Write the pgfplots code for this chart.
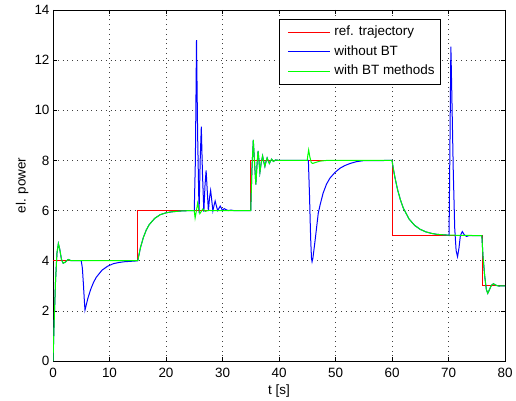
\documentclass[border=0pt]{standalone}
\usepackage{fontspec}
\setmainfont{Liberation Sans}
\usepackage{pgfplots}
\pgfplotsset{compat=1.18}
\newcommand{\fsz}{\fontsize{13.5}{16}\selectfont}
\definecolor{mred}{rgb}{1,0,0}
\definecolor{mblue}{rgb}{0,0,1}
\definecolor{mgreen}{rgb}{0,1,0}
\begin{document}
\begin{tikzpicture}
\begin{axis}[
    scale only axis,
    width=452bp, height=351bp,
    xmin=0, xmax=80, ymin=0, ymax=14,
    xtick={0,10,...,80}, ytick={0,2,...,14},
    enlargelimits=false,
    axis line style={line width=0.9bp, black},
    tick align=inside, major tick length=4bp,
    tick style={black, line width=0.5bp},
    xtick pos=both, ytick pos=both,
    grid=major,
    major grid style={black!75, line width=0.5bp, dash pattern=on 0.8bp off 4bp},
    /pgf/number format/assume math mode=true,
    tick label style={font=\fsz},
    xticklabel style={yshift=-3.5bp},
    label style={font=\fsz},
    xlabel={t [s]},
    ylabel={el. power},
    x label style={at={(axis description cs:0.5,-0.0954)}, anchor=base},
    y label style={at={(axis description cs:-0.0608,0.5)}, anchor=base},
    legend cell align=left,
    legend style={at={(rel axis cs:0.8584,0.9744)}, anchor=north east,
        font=\fsz, draw=black, line width=0.8bp, fill=white,
        inner xsep=4bp, inner ysep=6.2bp, row sep=6.7bp, column sep=2bp,
        nodes={inner xsep=2bp, inner ysep=0bp, text height=10bp, text depth=3bp}},
    legend image code/.code={\path (0bp,0bp); \draw[#1] (4bp,0bp) -- (46bp,0bp);},
    every axis plot/.append style={line width=1bp},
]
\addplot[mred] coordinates {(0,4)(15,4)(15,6)(35,6)(35,8)(60,8)(60,5)(76,5)(76,3)(80,3)};
\addplot[mblue] coordinates {
(0,0)(0.2,1.5)(0.45,3.2)(0.7,4.3)(0.95,4.68)(1.2,4.45)(1.5,4.05)(1.8,3.9)(2.2,3.95)(2.7,4.05)(3.2,4.0)
(5.0,4.0)(5.2,3.7)(5.4,3.0)(5.55,2.4)(5.66,2.03)(6.16,2.49)(6.66,2.85)(7.16,3.13)(7.66,3.34)(8.66,3.62)
(9.66,3.78)(10.66,3.88)(11.66,3.93)(12.66,3.96)(14.66,3.99)(15,4.0)
(15.5,4.54)(16,4.93)(16.5,5.22)(17,5.43)(18,5.69)(19,5.84)(20,5.91)(21,5.95)(23,5.99)(25.0,6.0)
(25.2,8.0)(25.4,12.8)(25.6,9.0)(25.85,5.9)(26.05,8.0)(26.25,9.35)(26.45,7.5)(26.7,5.95)(26.9,7.0)
(27.1,7.6)(27.3,6.8)(27.5,5.98)(27.7,6.5)(27.9,6.8)(28.1,6.4)(28.3,5.99)(28.5,6.2)(28.7,6.38)(28.9,6.2)
(29.15,6.0)(29.4,6.1)(29.6,6.18)(29.8,6.1)(30.0,6.0)(30.3,6.08)(30.6,6.04)(31,6.0)(31.5,6.02)(32,6.0)(35,6.0)
(35.2,7.6)(35.45,8.82)(35.7,7.8)(35.9,7.04)(36.1,7.8)(36.3,8.38)(36.45,8.0)(36.62,7.52)(36.85,7.9)
(37.1,8.18)(37.3,7.95)(37.5,7.76)(37.7,7.95)(37.9,8.1)(38.1,7.98)(38.3,7.88)(38.5,7.98)(38.7,8.05)
(39.0,7.96)(39.4,8.02)(40,8.0)(45.2,8.0)
(45.4,6.6)(45.6,4.9)(45.75,4.1)(45.85,3.96)(46.0,4.1)(46.4,4.83)(46.95,5.9)(47.3,6.25)(47.8,6.69)
(48.4,7.05)(49.0,7.29)(49.9,7.52)(50.8,7.69)(51.7,7.8)(52.6,7.88)(53.7,7.95)(54.9,7.99)(60,8.0)
(60.25,7.65)(60.5,7.34)(61,6.82)(61.5,6.42)(62,6.10)(63,5.67)(64,5.41)(65,5.25)(66,5.15)(67,5.09)
(68,5.05)(70,5.02)
(70.1,5.01)(70.25,8.5)(70.42,12.54)(70.6,10.5)(70.85,7.5)(71.1,5.3)(71.35,4.4)(71.6,4.16)(71.85,4.5)
(72.1,5.0)(72.45,5.16)(72.8,5.03)(73.2,4.97)(73.6,5.0)(75.9,5.0)
(76.1,4.2)(76.4,3.4)(76.7,2.85)(76.95,2.7)(77.25,2.85)(77.6,3.02)(77.95,3.08)(78.4,3.02)(78.9,2.99)(80,3.0)};
\addplot[mgreen] coordinates {
(0,0)(0.2,1.5)(0.45,3.2)(0.7,4.3)(0.95,4.68)(1.2,4.45)(1.5,4.05)(1.8,3.9)(2.2,3.95)(2.7,4.05)(3.2,4.0)(15,4.0)
(15.5,4.54)(16,4.93)(16.5,5.22)(17,5.43)(18,5.69)(19,5.84)(20,5.91)(21,5.95)(23,5.99)(25.0,6.0)
(25.15,5.7)(25.35,5.95)(25.6,6.3)(25.8,6.05)(26.0,5.88)(26.5,6.06)(27.0,5.97)(27.5,6.01)(28,6.0)(35,6.0)
(35.2,7.6)(35.45,8.82)(35.7,7.8)(35.9,7.04)(36.1,7.8)(36.3,8.38)(36.45,8.0)(36.62,7.52)(36.85,7.9)
(37.1,8.18)(37.3,7.95)(37.5,7.76)(37.7,7.95)(37.9,8.1)(38.1,7.98)(38.3,7.88)(38.5,7.98)(38.7,8.05)
(39.0,7.96)(39.4,8.02)(40,8.0)(45.0,8.0)
(45.1,8.2)(45.25,8.42)(45.45,8.15)(45.7,7.92)(45.95,7.88)(46.5,7.92)(47.2,7.97)(48.4,8.0)(60,8.0)
(60.25,7.65)(60.5,7.34)(61,6.82)(61.5,6.42)(62,6.10)(63,5.67)(64,5.41)(65,5.25)(66,5.15)(67,5.09)
(68,5.05)(70,5.02)(75.9,5.0)
(76.1,4.2)(76.4,3.4)(76.7,2.85)(76.95,2.7)(77.25,2.85)(77.6,3.02)(77.95,3.08)(78.4,3.02)(78.9,2.99)(80,3.0)};
\legend{ref. trajectory, without BT, with BT methods}
\end{axis}
\pgfresetboundingbox
\path ([shift={(-53bp,-39bp)}]current axis.south west) rectangle ([shift={(11bp,10bp)}]current axis.north east);
\end{tikzpicture}
\end{document}
